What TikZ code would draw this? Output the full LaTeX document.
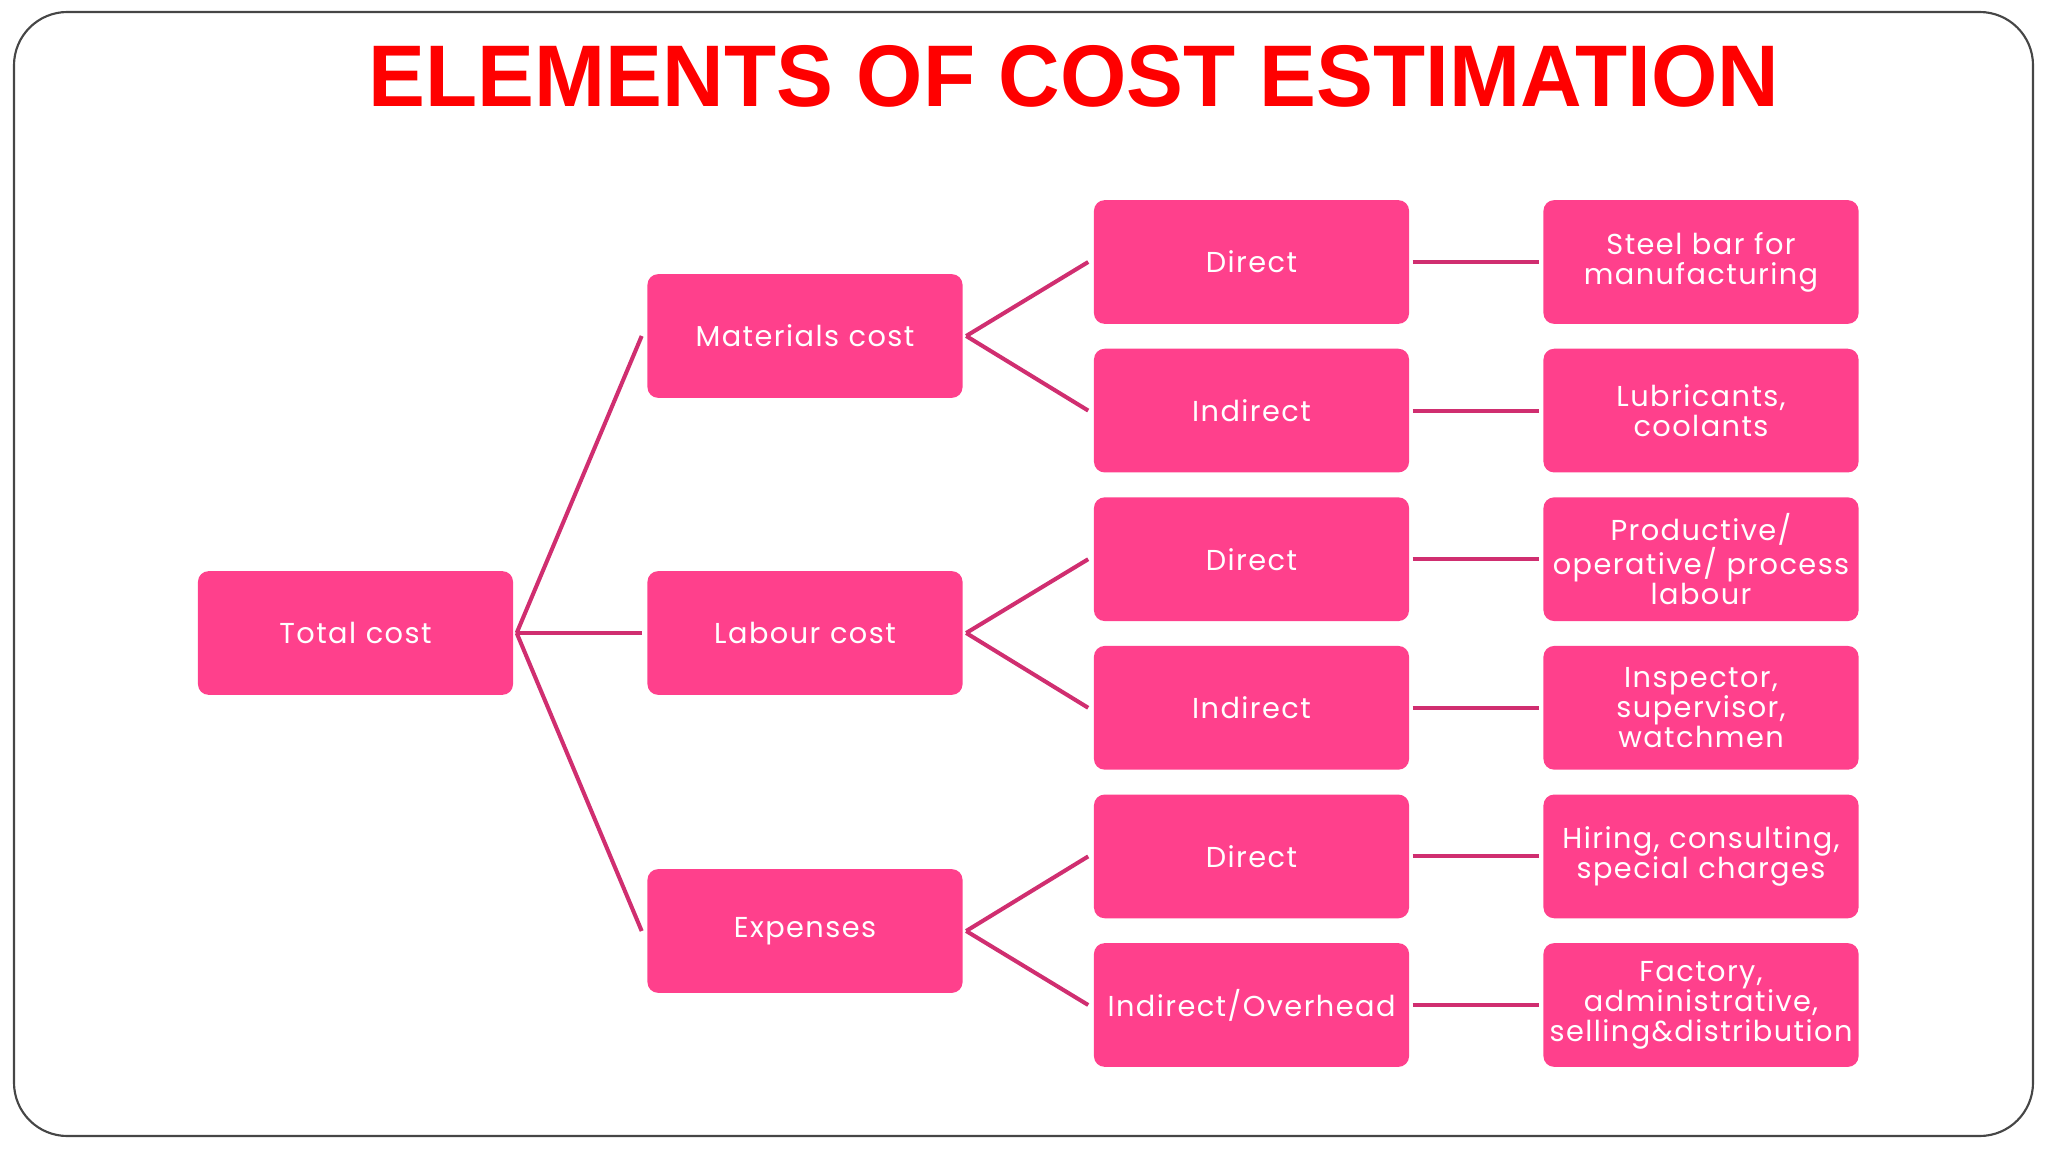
\documentclass[tikz,border=0pt]{standalone}
\usepackage{fontspec}
\setmainfont{Poppins}[LetterSpace=5,WordSpace=0.6]
\newfontfamily\titlefont{Liberation Sans}
\definecolor{boxpink}{RGB}{255,64,140}
\definecolor{linepink}{RGB}{208,46,112}
\definecolor{titlered}{RGB}{255,0,0}
\definecolor{framegray}{RGB}{70,70,70}
\begin{document}
\begin{tikzpicture}[x=0.46875pt,y=-0.46875pt,
  box/.style={fill=boxpink,draw=none,rounded corners=5pt,minimum width=147.7pt,minimum height=58pt,
    text=white,align=center,font=\fontsize{13.5}{14}\selectfont,inner ysep=0pt,inner xsep=-1.5pt,text width=150pt},
  conn/.style={draw=linepink,line width=1.9pt}]
\useasboundingbox (0,0) rectangle (2048,1152);
\draw[framegray,line width=1pt,rounded corners=25pt] (14,12) rectangle (2033,1136);
\node[text=titlered,font=\titlefont\bfseries\fontsize{41}{41}\selectfont,anchor=base] (title) at (1074,107) {\scalebox{0.975}[1]{ELEMENTS OF COST ESTIMATION}};
% column 1
\node[box] (tot) at (355.5,633) {Total cost};
% column 2
\node[box] (mat) at (805,336) {Materials cost};
\node[box] (lab) at (805,633) {Labour cost};
\node[box] (exp) at (805,931) {Expenses};
% column 3
\node[box] (md) at (1251.5,262) {Direct};
\node[box] (mi) at (1251.5,410.6) {Indirect};
\node[box] (ld) at (1251.5,559.2) {Direct};
\node[box] (li) at (1251.5,707.8) {Indirect};
\node[box] (ed) at (1251.5,856.4) {Direct};
\node[box] (ei) at (1251.5,1005) {Indirect/Overhead};
% column 4
\node[box] (mdx) at (1701,262) {Steel bar for\\manufacturing};
\node[box] (mix) at (1701,410.6) {Lubricants,\\coolants};
\node[box] (ldx) at (1701,559.2) {Productive/\\operative/ process\\labour};
\node[box] (lix) at (1701,707.8) {Inspector,\\supervisor,\\watchmen};
\node[box] (edx) at (1701,856.4) {Hiring, consulting,\\special charges};
\node[box] (eix) at (1701,1005) {Factory,\\administrative,\\selling\&distribution};
% connectors
\foreach \a/\b in {tot/mat,tot/lab,tot/exp,mat/md,mat/mi,lab/ld,lab/li,exp/ed,exp/ei}
  \draw[conn] ([xshift=1.5pt]\a.east) -- ([xshift=-2.5pt]\b.west);
\foreach \a/\b in {md/mdx,mi/mix,ld/ldx,li/lix,ed/edx,ei/eix}
  \draw[conn] ([xshift=1.5pt]\a.east) -- ([xshift=-2pt]\b.west);
\end{tikzpicture}
\end{document}
